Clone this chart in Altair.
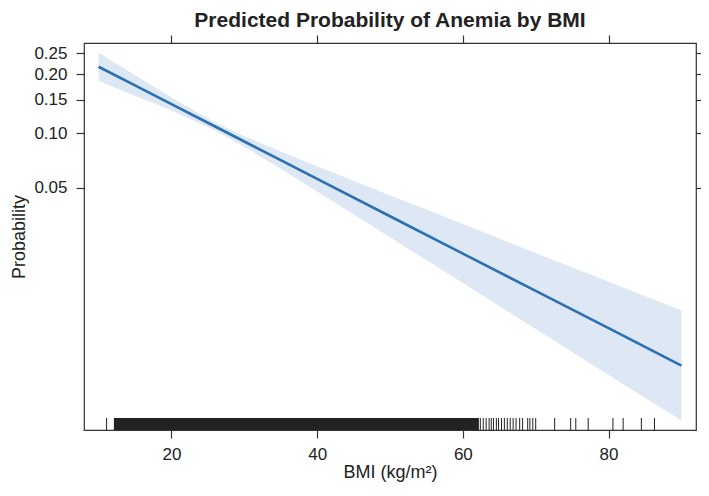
import math
import altair as alt
import pandas as pd

# ---- data ----
bmi = [10, 15, 20, 26, 30, 35, 40, 50, 60, 70, 80, 90]
fit = [0.2170, 0.1766, 0.1423, 0.1087, 0.0903, 0.0713, 0.0561, 0.0343, 0.0208, 0.01258, 0.00757, 0.00454]
lower = [0.1855, 0.1570, 0.1318, 0.1035, 0.0845, 0.0638, 0.0476, 0.02594, 0.01399, 0.00750, 0.00400, 0.00214]
upper = [0.2523, 0.1980, 0.1536, 0.1142, 0.0964, 0.0797, 0.0660, 0.0453, 0.0309, 0.0210, 0.01424, 0.00963]

rug_sparse = [11.1, 62.4, 62.8, 63.2, 63.6, 63.9, 64.2, 64.6, 64.9, 65.3, 65.7, 66.1, 66.5,
              66.9, 67.3, 67.8, 68.2, 68.9, 69.2, 69.6, 70.0, 72.6, 74.8, 75.5, 77.2,
              80.6, 82.0, 84.5, 86.3]
rug_dense_start = [12.1]
rug_dense_end = [62.2]

x_ticks = [20, 40, 60, 80]
y_ticks = [0.05, 0.10, 0.15, 0.20, 0.25]
x_domain = [8, 92]
y_domain = [0.00188, 0.2775]

TITLE = "Predicted Probability of Anemia by BMI"
FONT = "Liberation Sans"


def logit(p):
    return math.log(p / (1 - p))


W, H = 612, 387
RUG = 12

df = pd.DataFrame({"bmi": bmi, "fit": fit, "lower": lower, "upper": upper})
rug_df = pd.DataFrame({"bmi": rug_sparse})
dense_df = pd.DataFrame({"start": rug_dense_start, "end": rug_dense_end})

xs = alt.Scale(domain=x_domain, nice=False, zero=False)
ys = alt.Scale(domain=[logit(p) for p in y_domain], nice=False, zero=False)
label_expr = "format(1/(1+exp(-datum.value)), '.2f')"

base = alt.Chart(df).transform_calculate(
    lf="log(datum.fit/(1-datum.fit))",
    ll="log(datum.lower/(1-datum.lower))",
    lu="log(datum.upper/(1-datum.upper))",
)

band = base.mark_area(color="#dde8f4", opacity=1).encode(
    x=alt.X("bmi:Q", scale=xs,
            axis=alt.Axis(orient="bottom", values=x_ticks, title="BMI (kg/m²)",
                          labelPadding=8, titlePadding=1)),
    y=alt.Y("ll:Q", scale=ys,
            axis=alt.Axis(orient="left", values=[logit(p) for p in y_ticks],
                          labelExpr=label_expr, title="Probability",
                          labelPadding=9, titlePadding=5)),
    y2="lu:Q",
)

line = base.mark_line(color="#2b70b1", strokeWidth=2.6).encode(
    x=alt.X("bmi:Q", scale=xs,
            axis=alt.Axis(orient="top", values=x_ticks, labels=False, title=None)),
    y=alt.Y("lf:Q", scale=ys,
            axis=alt.Axis(orient="right", values=[logit(p) for p in y_ticks],
                          labels=False, title=None)),
)

rug = alt.Chart(rug_df).mark_rule(color="#222", strokeWidth=1).encode(
    x=alt.X("bmi:Q", scale=xs, axis=None),
    y=alt.value(H - RUG),
    y2=alt.value(H),
)

dense = alt.Chart(dense_df).mark_rect(color="#222").encode(
    x=alt.X("start:Q", scale=xs, axis=None),
    x2="end:Q",
    y=alt.value(H - RUG),
    y2=alt.value(H),
)

chart = (
    alt.layer(band, line, rug, dense)
    .resolve_axis(x="independent", y="independent")
    .properties(
        width=W,
        height=H,
        autosize=alt.AutoSizeParams(type="none"),
        padding={"left": 76, "top": 35, "right": 5, "bottom": 52},
        title=alt.Title(TITLE, font=FONT, fontSize=21, fontWeight="bold",
                        color="#222", offset=3, anchor="middle"),
    )
    .configure_view(stroke="#333", strokeWidth=1.2)
    .configure_axis(
        domain=False, grid=False, tickSize=8, tickColor="#333", tickWidth=1.2,
        labelFont=FONT, labelFontSize=17, labelColor="#222",
        titleFont=FONT, titleFontSize=18, titleFontWeight="normal", titleColor="#222",
    )
)

chart.save("out.html", embed_options={"renderer": "svg", "actions": False})
